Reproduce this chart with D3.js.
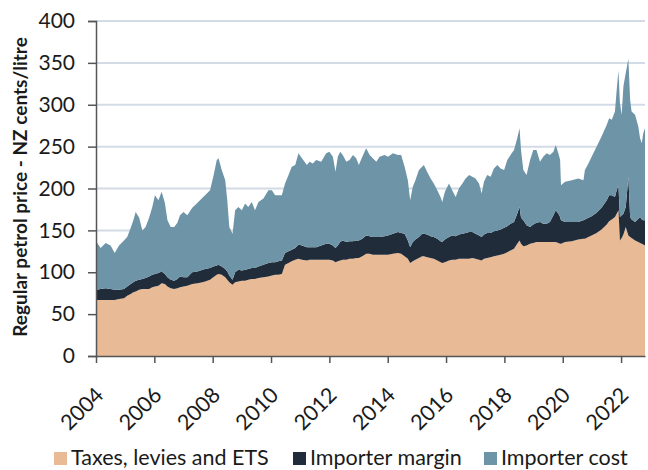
<!DOCTYPE html>
<html lang="en">
<head>
<meta charset="UTF-8">
<title>Regular petrol price</title>
<script src="https://cdn.jsdelivr.net/npm/d3@7"></script>
<style>
  body { margin: 0; background: #fff; }
  text { font-family: Lato, "Open Sans", sans-serif; fill: #1a1a1a; }
</style>
</head>
<body>
<script>
// dates as decimal years
var dates = [2004.02,2004.16,2004.33,2004.50,2004.64,2004.79,2004.96,2005.07,2005.19,2005.28,
  2005.36,2005.48,2005.59,2005.70,2005.82,2005.93,2006.02,2006.14,2006.25,2006.36,
  2006.45,2006.56,2006.68,2006.79,2006.88,2007.00,2007.13,2007.30,2007.48,2007.65,
  2007.74,2007.91,2008.02,2008.14,2008.20,2008.31,2008.43,2008.50,2008.57,2008.68,
  2008.77,2008.88,2009.00,2009.11,2009.22,2009.34,2009.45,2009.57,2009.74,2009.91,
  2010.03,2010.14,2010.25,2010.37,2010.48,2010.60,2010.71,2010.83,2010.94,2011.06,
  2011.23,2011.32,2011.43,2011.55,2011.72,2011.89,2012.00,2012.12,2012.21,2012.29,
  2012.37,2012.46,2012.58,2012.69,2012.81,2012.92,2013.01,2013.13,2013.26,2013.38,
  2013.49,2013.61,2013.72,2013.89,2014.01,2014.18,2014.35,2014.46,2014.58,2014.69,
  2014.77,2014.86,2014.95,2015.07,2015.18,2015.24,2015.35,2015.47,2015.58,2015.70,
  2015.81,2015.87,2015.96,2016.10,2016.21,2016.33,2016.44,2016.56,2016.67,2016.79,
  2016.90,2017.01,2017.13,2017.22,2017.30,2017.41,2017.53,2017.64,2017.76,2017.87,
  2017.99,2018.10,2018.21,2018.33,2018.44,2018.52,2018.57,2018.65,2018.76,2018.88,
  2018.99,2019.10,2019.22,2019.33,2019.45,2019.56,2019.68,2019.76,2019.85,2019.91,
  2019.94,2020.08,2020.31,2020.53,2020.71,2020.76,2020.88,2020.99,2021.16,2021.33,
  2021.51,2021.59,2021.68,2021.79,2021.85,2021.91,2021.96,2022.02,2022.08,2022.16,
  2022.25,2022.31,2022.36,2022.48,2022.59,2022.65,2022.71,2022.76,2022.82];

// NZ cents per litre
var taxes = [67,67,67,67,67,68,69,72,74,76,
  77,79,80,80,80,82,83,84,87,86,
  83,81,80,81,82,83,84,86,87,88,
  89,91,94,97,98,97,94,91,88,85,
  88,89,90,90,91,92,92,93,94,95,
  96,97,97,98,109,111,113,115,116,115,
  114,115,115,115,115,115,115,114,112,113,
  114,115,115,116,116,117,117,119,122,122,
  121,121,121,121,121,122,123,122,119,116,
  111,113,115,117,119,119,118,117,116,114,
  112,111,112,114,115,115,116,116,116,116,
  117,116,115,114,116,117,118,119,120,121,
  122,124,126,128,134,138,134,131,132,134,
  135,136,136,136,136,136,136,136,135,134,
  134,136,137,139,140,140,142,144,147,151,
  157,161,163,166,170,174,138,141,145,154,
  144,142,141,138,136,135,134,133,132];

var margin = [12,13,14,13,12,11,11,11,12,12,
  13,12,12,13,15,15,15,15,14,12,
  11,10,10,11,13,11,10,14,14,15,
  15,14,13,11,11,10,10,10,8,6,
  12,14,12,13,13,13,13,14,15,16,
  16,15,16,16,14,14,14,14,17,17,
  16,15,15,15,17,19,19,18,17,19,
  22,23,21,21,21,21,21,21,22,21,
  21,21,21,22,23,24,25,25,27,22,
  19,23,24,25,27,27,27,26,26,26,
  25,25,27,28,29,28,29,30,31,32,
  31,30,29,28,29,30,29,30,30,30,
  31,31,32,32,36,40,31,31,24,20,
  22,23,24,22,22,24,32,38,35,32,
  28,24,23,21,22,23,23,23,24,26,
  29,31,29,24,28,30,28,27,25,24,
  70,24,22,22,28,31,29,29,30];

var cost = [57,49,54,52,44,53,58,59,67,74,
  82,74,58,61,70,81,94,87,95,85,
  68,63,64,67,73,78,74,77,82,86,
  88,93,107,126,127,115,106,85,58,55,
  74,75,72,79,74,79,69,77,79,87,
  86,80,79,78,83,91,99,99,109,104,
  98,102,100,104,100,108,110,106,91,106,
  108,102,96,97,103,98,90,98,104,97,
  94,90,96,97,94,96,92,93,80,72,
  56,66,71,80,80,82,75,69,64,58,
  53,48,57,64,54,47,55,60,65,68,
  66,66,62,52,63,69,67,75,78,73,
  69,79,82,86,90,94,81,60,60,80,
  89,87,72,80,84,80,76,78,72,68,
  42,48,50,52,48,59,65,71,79,85,
  90,92,90,102,120,137,136,120,152,160,
  141,140,129,128,110,94,91,104,110];

var seriesNames = ["Taxes, levies and ETS", "Importer margin", "Importer cost"];
var seriesColors = ["#e8ba96", "#212c3a", "#6e94a8"];
var yTicks = [0, 50, 100, 150, 200, 250, 300, 350, 400];
var xTicks = [2004, 2006, 2008, 2010, 2012, 2014, 2016, 2018, 2020, 2022];

var width = 648, height = 470;
var plotLeft = 96, plotRight = 645, plotTop = 21, plotBottom = 356;

var rows = dates.map(function (d, i) {
    return {date: d, tax: taxes[i], margin: margin[i], cost: cost[i]};
});

var svg = d3.select("body").append("svg")
    .attr("width", width)
    .attr("height", height);

var x = d3.scaleLinear().domain([2004, 2022.82]).range([plotLeft, plotRight]);
var y = d3.scaleLinear().domain([0, 400]).range([plotBottom, plotTop]);

// gridlines first, areas sit on top of them
svg.append("g")
    .selectAll("line")
    .data(yTicks.slice(1))
    .enter().append("line")
    .attr("x1", plotLeft).attr("x2", plotRight)
    .attr("y1", function (d) { return y(d); })
    .attr("y2", function (d) { return y(d); })
    .attr("stroke", "#d3dce6")
    .attr("stroke-width", 2);

var stack = d3.stack().keys(["tax", "margin", "cost"]);
var layers = stack(rows);

var area = d3.area()
    .x(function (d) { return x(d.data.date); })
    .y0(function (d) { return y(d[0]); })
    .y1(function (d) { return y(d[1]); });

svg.append("g")
    .selectAll("path")
    .data(layers)
    .enter().append("path")
    .attr("d", area)
    .attr("fill", function (d, i) { return seriesColors[i]; });

// axes
var yAxis = d3.axisLeft(y).tickValues(yTicks).tickSize(8).tickPadding(13);
var gy = svg.append("g")
    .attr("transform", "translate(" + plotLeft + ",0)")
    .call(yAxis);
gy.select(".domain").attr("stroke", "#555").attr("stroke-width", 1.5);
gy.selectAll(".tick line").attr("stroke", "#555").attr("stroke-width", 1.5);
gy.selectAll(".tick text")
    .attr("font-size", "21px")
    .attr("font-family", "Lato, sans-serif")
    .attr("fill", "#1a1a1a");

var xAxis = d3.axisBottom(x).tickValues(xTicks).tickFormat(d3.format("d")).tickSize(7).tickSizeOuter(0);
var gx = svg.append("g")
    .attr("transform", "translate(0," + plotBottom + ")")
    .call(xAxis);
gx.select(".domain").attr("stroke", "#555").attr("stroke-width", 1.5);
gx.selectAll(".tick line").attr("stroke", "#555").attr("stroke-width", 1.5);
gx.selectAll(".tick text")
    .attr("font-size", "21.5px")
    .attr("font-family", "Lato, sans-serif")
    .attr("fill", "#1a1a1a")
    .attr("text-anchor", "end")
    .attr("y", 0)
    .attr("dy", "0.35em")
    .attr("transform", "translate(3,35) rotate(-45)");

// y title
svg.append("text")
    .attr("transform", "translate(27,187) rotate(-90)")
    .attr("text-anchor", "middle")
    .attr("font-size", "19px")
    .attr("font-weight", "bold")
    .text("Regular petrol price - NZ cents/litre");

// legend
var legendX = [54, 293, 484];
var legend = svg.append("g")
    .selectAll("g")
    .data(seriesNames)
    .enter().append("g")
    .attr("transform", function (d, i) { return "translate(" + legendX[i] + ",452)"; });
legend.append("rect")
    .attr("width", 13).attr("height", 13)
    .attr("fill", function (d, i) { return seriesColors[i]; });
legend.append("text")
    .attr("x", 17).attr("y", 13)
    .attr("font-size", "21.5px")
    .text(function (d) { return d; });
</script>
</body>
</html>
